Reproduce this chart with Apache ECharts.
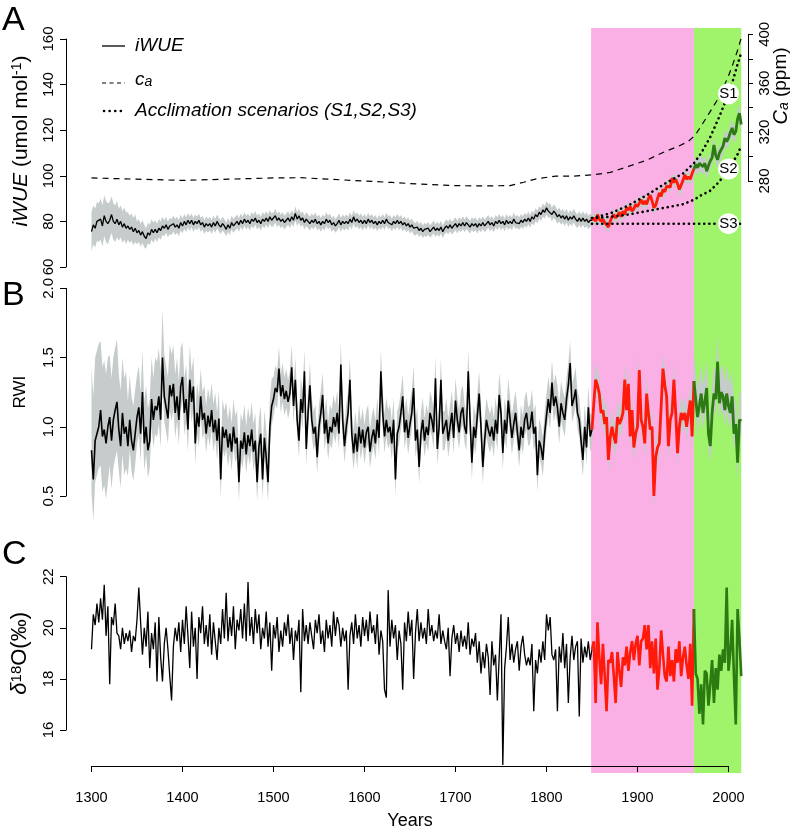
<!DOCTYPE html>
<html><head><meta charset="utf-8">
<script src="https://cdn.jsdelivr.net/npm/echarts@6/dist/echarts.min.js"></script>
<style>html,body{margin:0;padding:0;background:#fff}#c{width:796px;height:831px}</style>
</head><body><div id="c"></div><script>
// ---------- data (annual grid sampled every 2 years, 1300..2014) ----------
const yearStart = 1300, yearStep = 2;
const iwue = [
75.5,78.5,77,80,79.5, 81,78,82.5,80,79, 80.5,83,80,79,81, 78.5,80,77.5,79,77, 78,76.5,77.5,75.5,77,
75,76,74,75.5,73.5, 72.5,75,74,76.5,75, 76.5,75,77,76,78, 77,78.5,76.5,78,77.5, 79,77.5,78.5,77,79.5,
78,80,78.5,80.5,79, 80.5,78.5,80,79,80.5, 78.5,79.5,77.5,79,78, 79,77.5,79.5,78,80, 78.5,77.5,79,78,76.5,
78.5,77,79.5,78,79, 80,78.5,80.5,79,81, 79.5,80.5,79,81,80, 81.5,79.5,80.5,79,81, 80,81.5,80,82,80.5,
81,82.5,80.5,81.5,80, 81,79.5,80.5,81.5,80, 82,80.5,83.5,81,82.5, 80.5,81.5,79.5,81,80, 79,80.5,79.5,81,79,
80,78.5,80,79,81, 79.5,80.5,78.5,79.5,78, 79,80.5,78.5,80,79, 80,79,81,79.5,82, 80,81,79.5,80.5,79,
80.5,79,81,79.5,80.5, 79,80,78.5,80,79, 80.5,79,81,79.5,80, 78.5,80,79,80.5,79, 80,78.5,79.5,78,79,
77.5,78.5,77,76.5,77.5, 76,77,75.5,76.5,76, 77,75.5,76.5,77.5,76, 77,76,77.5,75.5,77, 78,77,78.5,77,78,
79,77.5,79,78,79.5, 78,79.5,78.5,77.5,79, 78,79,77.5,79,78, 79.5,78,79,80,78.5, 79.5,78,80,79,80.5,
79,80,78.5,80.5,79, 80,79,81,79.5,80, 79,80.5,79.5,81,80, 81.5,80,82,81,83, 82,84,83,85,84,
86,84.5,85,83,84.5, 83.5,82,83,81.5,82.5, 81,82.5,80.5,82,81, 82.5,81,80,81.5,80, 81.5,80,81,79.5,80.5,
80.5,81.5,80,83,81, 80,81,79.5,78.5,77.5, 80,82,83,81.5,82.5, 84,82,84.5,83,86, 85,86.5,84.5,85.5,87.5,
86.5,88,89.5,87.5,89, 87.5,90,91.5,89,86, 87,90,92.5,91,94, 93,95.5,96,95,99, 97,98.5,96.5,94,93.5,
98,100.5,98.5,99.5,98.5, 101,103,105,103.5,105.5, 105,104,105.5,102,104.5, 106.5,108,113.5,109,107,
110,110.5,113,116.5,115, 116.5,119,121,118,119.5, 125,127.5,122.5
];
// half width of the grey iWUE envelope, one value per decade (1300s .. 2010s)
const iwueSpread = [
8.5,9,8,7,6,5,4.5,4,3.5,3.5,
3.2,3,3,3,3,3,3,3,3,3,
3,3,3,3,3,3,3,3,3,3,
2.8,2.8,2.8,2.8,2.8,2.8,2.8,2.8,2.8,2.8,
2.8,2.8,2.8,2.8,2.8,2.8,2.8,2.8,2.8,2.8,
3,3,3,3,3,
2.5,2.5,2.5,2.5,2.5,2.5,2.5,2.5,2.5,2.5,2.5,
3.5,3.5,3.5,3.5,3.5,3.5
];
const rwi = [
0.83,0.62,0.90,0.95,1.00, 1.12,0.93,0.98,0.88,1.00, 1.07,0.90,1.05,1.12,1.18, 0.98,0.86,1.10,0.95,1.00, 0.86,1.05,0.90,0.83,0.95,
1.07,1.14,0.95,1.25,0.88, 1.00,0.83,0.90,1.20,1.05, 1.15,1.12,1.22,1.05,1.50, 1.22,1.14,1.06,1.30,1.22, 1.31,1.10,1.22,1.05,1.29,
1.36,1.10,1.20,0.98,1.34, 1.18,1.29,0.88,1.10,1.00, 1.22,1.05,1.10,0.95,1.08, 1.00,1.12,0.96,1.05,0.90, 1.06,0.62,1.00,0.92,0.98,
0.85,0.95,0.82,1.00,0.88, 0.92,0.60,0.90,0.84,0.96, 0.80,0.94,0.86,0.98,0.82, 0.90,0.60,0.86,0.95,0.62, 0.92,0.78,0.60,1.00,1.15,
1.20,1.28,1.25,1.42,1.22, 1.30,1.20,1.26,1.18,1.24, 1.43,1.15,1.34,1.05,0.90, 1.20,1.10,1.40,0.84,1.10, 1.30,1.05,0.95,1.00,0.78,
1.00,1.10,1.23,0.95,1.05, 0.88,1.00,0.96,1.07,1.00, 1.10,0.95,1.45,1.05,0.86, 1.00,1.10,1.34,0.95,0.81, 0.95,0.82,1.00,0.88,0.98,
0.85,0.96,1.00,0.82,0.92, 0.98,0.88,1.05,0.92,1.40, 1.10,0.93,1.05,0.96,1.00, 0.88,1.05,0.62,0.95,1.00, 1.10,1.22,0.96,1.05,0.92,
1.02,1.10,1.28,0.90,0.98, 0.71,0.95,1.05,0.90,1.00, 0.94,1.10,1.05,0.96,1.35, 0.84,1.00,1.34,0.95,0.95, 1.05,0.90,1.00,1.10,0.92,
1.19,1.05,0.96,1.10,1.14, 1.00,0.95,1.40,1.05,0.74, 1.00,0.92,1.08,1.24,1.00, 0.71,0.90,1.05,0.98,0.93, 1.00,0.90,1.05,0.95,1.23,
1.10,0.81,1.05,0.95,1.19, 1.05,0.92,1.02,1.10,0.96, 0.83,1.00,0.92,1.05,1.10, 0.98,1.00,1.11,0.95,1.00, 0.65,0.90,0.85,0.76,0.95,
1.08,1.20,1.10,1.32,1.15, 1.22,1.14,1.00,1.17,1.10, 1.05,1.20,1.30,1.46,1.15, 1.20,1.27,1.10,1.05,0.90, 0.76,1.00,0.85,1.14,0.93,
0.98,1.17,1.34,1.30,1.24, 1.10,1.12,1.02,1.07,0.76, 0.92,1.00,0.93,0.88,1.07, 1.02,1.05,1.10,1.34,1.12, 1.31,0.93,1.12,0.85,0.95,
1.00,1.41,1.05,1.00,0.88, 1.24,1.10,0.98,1.00,0.50, 0.78,0.85,0.88,1.15,1.42, 1.30,1.22,0.86,1.05,1.10, 1.34,1.10,0.81,1.00,1.10,
1.05,1.10,1.00,1.10,1.19, 0.93,1.33,1.20,1.07,1.15, 1.24,1.10,1.18,1.28,0.95, 0.86,1.10,1.24,1.20,1.47,
1.17,1.25,1.22,1.12,1.24, 1.15,1.10,1.22,0.95,1.02, 0.74,1.05,1.04
];
// grey RWI envelope above / below the mean, one value per decade
const rwiUp = [
0.6,0.5,0.45,0.4,0.32,0.3,0.3,0.35,0.3,0.28,
0.25,0.22,0.2,0.2,0.2,0.2,0.2,0.2,0.2,0.2,
0.16,0.16,0.16,0.16,0.16,0.16,0.16,0.16,0.16,0.16,
0.16,0.16,0.16,0.16,0.16,0.16,0.16,0.16,0.16,0.16,
0.16,0.16,0.16,0.16,0.16,0.16,0.16,0.16,0.16,0.16,
0.16,0.16,0.16,0.16,0.16,
0.12,0.12,0.12,0.12,0.12,0.12,0.12,0.12,0.12,0.12,0.12,
0.2,0.2,0.2,0.2,0.2,0.2
];
const rwiDown = [
0.3,0.4,0.35,0.3,0.22,0.2,0.2,0.2,0.18,0.18,
0.16,0.15,0.14,0.14,0.14,0.14,0.14,0.14,0.14,0.14,
0.12,0.12,0.12,0.12,0.12,0.12,0.12,0.12,0.12,0.12,
0.12,0.12,0.12,0.12,0.12,0.12,0.12,0.12,0.12,0.12,
0.12,0.12,0.12,0.12,0.12,0.12,0.12,0.12,0.12,0.12,
0.12,0.12,0.12,0.12,0.12,
0.1,0.1,0.1,0.1,0.1,0.1,0.1,0.1,0.1,0.1,0.1,
0.12,0.12,0.12,0.12,0.12,0.12
];
const d18o = [
19.3,20.6,20.2,21.0,20.3, 21.2,20.4,21.7,19.8,20.9, 18.0,20.5,20.2,21.0,19.9, 19.8,19.3,20.1,19.5,19.9, 19.6,20.0,19.2,19.8,19.6,
20.4,21.6,20.3,19.1,20.1, 19.4,20.7,18.6,19.9,19.3, 20.3,18.1,20.5,19.0,18.1, 19.5,20.1,19.3,18.3,17.4, 19.4,20.1,19.6,20.3,19.2,
20.4,19.5,20.9,19.8,18.6, 20.7,19.4,20.1,18.2,20.5, 19.9,20.9,19.5,20.2,19.4, 20.6,19.1,20.3,19.6,18.9, 20.1,19.5,20.8,19.7,21.4,
19.6,20.5,19.8,20.9,19.3, 20.4,20.0,20.8,19.7,21.0, 19.6,21.8,19.8,20.5,19.5, 20.8,19.9,20.6,19.3,20.1, 19.7,20.7,19.4,20.3,18.5,
20.2,19.7,20.5,19.2,20.0, 19.4,20.3,19.8,20.6,19.5, 20.1,18.9,20.0,19.6,20.4, 17.7,20.8,19.6,20.2,19.5, 20.3,19.8,19.3,20.4,19.9,
20.6,19.5,20.0,19.2,20.4, 19.7,20.2,19.4,20.7,19.8, 20.5,20.2,19.4,20.1,19.6, 20.0,17.8,19.8,20.3,19.5, 20.6,19.7,20.2,19.4,20.5,
19.8,20.4,19.6,20.7,19.9, 20.2,19.5,20.6,19.1,20.0, 19.6,17.8,17.5,21.5,19.4, 20.4,19.7,20.2,18.9,20.0, 19.5,17.8,20.3,19.6,20.7,
19.8,20.4,18.2,19.9,20.8, 19.6,20.3,19.7,20.1,19.5, 20.8,19.8,20.2,19.6,20.0, 19.7,20.6,19.5,20.0,19.6, 19.3,20.1,18.3,19.7,20.2,
19.5,19.9,19.2,20.0,19.4, 19.8,19.3,20.3,19.1,19.7, 19.4,19.9,18.8,19.6,18.4, 19.2,18.6,19.5,19.0,17.6, 19.6,18.7,19.1,17.4,19.0,
20.6,15.0,18.6,19.4,20.5, 18.9,19.5,18.8,19.3,19.6, 18.5,19.4,19.8,19.1,18.7, 19.0,18.7,19.5,17.0,18.9, 18.4,19.3,18.8,19.6,18.9,
20.6,20.0,20.5,19.1,18.9, 19.3,17.0,19.4,18.8,19.9, 18.6,19.5,17.3,19.0,19.8, 18.9,19.4,19.6,16.8,19.7, 18.8,19.4,19.0,19.6,18.9,
19.3,19.6,17.3,20.3,19.0, 18.0,19.5,18.3,17.0,18.9, 18.8,19.2,18.3,17.3,19.2, 18.5,17.9,19.0,18.7,19.4, 18.5,19.2,19.6,18.9,19.5,
19.8,18.7,19.6,19.7,20.2, 19.3,20.2,18.6,19.6,18.4, 19.7,17.8,18.6,20.0,19.1, 18.3,18.1,19.4,18.3,18.9, 18.1,19.3,18.8,19.6,18.3,
19.0,19.4,18.7,18.2,19.5, 17.2,20.8,18.4,18.2,16.9, 18.0,16.5,18.5,18.4,17.2, 18.0,18.9,17.3,18.6,17.8,
19.1,18.5,19.3,18.8,21.6, 18.5,19.2,20.4,18.3,16.5, 20.8,19.7,18.3
];
// atmospheric CO2 (ca, ppm)
const caYears  = [1300,1350,1400,1450,1500,1530,1560,1600,1630,1660,1700,1730,1760,1775,1790,1810,1830,1850,1870,1890,1910,1930,1945,1955,1963,1970,1980,1990,2000,2005,2010,2014];
const caValues = [282.5,281.5,280.5,281.5,282.5,282.7,281.5,280,278.8,277.5,276.2,276,276.2,279,282,284,284,285,287,292,297,304,308.5,312,317,325,337,349,366,376,387,397];
// acclimation scenarios (iWUE)
const scenarioYears = [1850,1870,1890,1910,1930,1950,1962,1970,1980,1990,2000,2005,2010,2014];
const s1 = [81.5,83.5,87,91.5,96.5,101,105.5,110,117,126,136,142,149,154];
const s2 = [81.5,82,83,84.5,86,87.5,89.5,91.5,93.5,97.5,103,106,109.5,113];
const s3 = [79,79,79,79,79,79,79,79,79,79,79,79,79,79];
const scenarioNames = ['S1','S2','S3'];
const scenarioLabelYear = 2000;
// periods (pink = 1850-1962, green = 1962-2014)
const periodStart = [1849, 1962];
const periodEnd   = [1962, 2014];

// ---------- layout ----------
const FONT = "'Liberation Sans', Arial, Helvetica, sans-serif";
const BLACK = '#000', RED = '#ff1a0a', GREEN = '#2b7a12', GREY = '#c6cbcb';
const PINK = '#fab0e5', LIME = '#9ff46b';
// tick-range frames (pixel boxes of the axes, R style)
const AX = { left: 91.5, right: 728.5 };
const frames = {
  A:  { top: 39,    bottom: 267, min: 60,  max: 160 },
  Ca: { top: 34.3,  bottom: 181, min: 280, max: 400 },
  B:  { top: 288.3, bottom: 496, min: 0.5, max: 2.0 },
  C:  { top: 576.7, bottom: 738, min: 16,  max: 22 }
};
// plotting regions (wider, so nothing is clipped) -- same scale as the frames
const DX = { left: 66, right: 767 };
const regions = { A: [28, 278], Ca: [28, 200], B: [278, 540], C: [556, 773] };
function extend(f, r) {
  const per = (f.max - f.min) / (f.bottom - f.top);
  return { min: f.min - (r[1] - f.bottom) * per, max: f.max + (f.top - r[0]) * per };
}
const xPer = (2000 - 1300) / (AX.right - AX.left);
const xMinD = 1300 - (AX.left - DX.left) * xPer, xMaxD = 2000 + (DX.right - AX.right) * xPer;

// ---------- build ----------
const years = iwue.map((_, i) => yearStart + i * yearStep);
const dIdx = y => Math.min(Math.floor((y - 1300) / 10), 71);
function seg(vals, from, to) {
  const out = [];
  years.forEach((y, i) => { if (y >= from && y <= to) out.push([y, vals[i]]); });
  return out;
}

const grids = [], xAxes = [], yAxes = [];
// data grids 0..3 : A, Ca, B, C ; 4 : background
['A', 'Ca', 'B', 'C'].forEach((k, i) => {
  const r = regions[k], e = extend(frames[k], r);
  grids.push({ left: DX.left, width: DX.right - DX.left, top: r[0], height: r[1] - r[0] });
  xAxes.push({ type: 'value', gridIndex: i, min: xMinD, max: xMaxD, show: false });
  yAxes.push({ type: 'value', gridIndex: i, min: e.min, max: e.max, show: false });
});
grids.push({ left: DX.left, width: DX.right - DX.left, top: 28, height: 745 });
xAxes.push({ type: 'value', gridIndex: 4, min: xMinD, max: xMaxD, show: false });
yAxes.push({ type: 'value', gridIndex: 4, min: 0, max: 1, show: false });

// axis frames 5..8
const axisLine = { show: true, lineStyle: { color: BLACK, width: 1 } };
const lab = { color: BLACK, fontSize: 15, fontFamily: FONT };
['A', 'Ca', 'B', 'C'].forEach((k, j) => {
  const f = frames[k], gi = 5 + j;
  grids.push({ left: AX.left, width: AX.right - AX.left, top: f.top, height: f.bottom - f.top });
  xAxes.push({
    type: 'value', gridIndex: gi, min: 1300, max: 2000, interval: 100, show: k === 'C', offset: 36,
    splitLine: { show: false }, axisLine, axisTick: { show: true, length: 6, lineStyle: { color: BLACK } },
    axisLabel: Object.assign({}, lab, { fontSize: 14.5, margin: 24, formatter: v => String(v) }),
    name: 'Years', nameLocation: 'middle', nameGap: 46,
    nameTextStyle: { color: BLACK, fontSize: 18, fontFamily: FONT }
  });
});
yAxes.push(
  { type: 'value', gridIndex: 5, min: 60, max: 160, interval: 20, offset: 25.5, splitLine: { show: false }, axisLine,
    axisTick: { show: true, length: 6, lineStyle: { color: BLACK } },
    axisLabel: Object.assign({}, lab, { rotate: 90, margin: 10, formatter: v => String(v) }) },
  { type: 'value', gridIndex: 6, position: 'right', min: 280, max: 400, interval: 20, offset: 19.5, splitLine: { show: false }, axisLine,
    axisTick: { show: true, length: 5, lineStyle: { color: BLACK } },
    axisLabel: Object.assign({}, lab, { rotate: 90, margin: 9, formatter: v => ((v - 280) % 40 === 0 ? String(v) : '') }) },
  { type: 'value', gridIndex: 7, min: 0.5, max: 2.0, interval: 0.5, offset: 25.5, splitLine: { show: false }, axisLine,
    axisTick: { show: true, length: 6, lineStyle: { color: BLACK } },
    axisLabel: Object.assign({}, lab, { rotate: 90, margin: 10, formatter: v => v.toFixed(1) }),
    name: 'RWI', nameLocation: 'middle', nameGap: 37, nameRotate: 90,
    nameTextStyle: { color: BLACK, fontSize: 17, fontFamily: FONT } },
  { type: 'value', gridIndex: 8, min: 16, max: 22, interval: 2, offset: 25.5, splitLine: { show: false }, axisLine,
    axisTick: { show: true, length: 6, lineStyle: { color: BLACK } },
    axisLabel: Object.assign({}, lab, { rotate: 90, margin: 10, formatter: v => String(v) }),
    name: '{i|δ}{sup|18}O(‰)', nameLocation: 'middle', nameGap: 35, nameRotate: 90,
    nameTextStyle: { color: BLACK, fontSize: 22, fontFamily: FONT,
      rich: { i: { fontStyle: 'italic', fontSize: 22, fontFamily: FONT, color: BLACK },
              sup: { fontSize: 15, verticalAlign: 'top', fontFamily: FONT, color: BLACK } } } }
);

function line(gi, data, color, width, z, extra) {
  return Object.assign({
    type: 'line', xAxisIndex: gi, yAxisIndex: gi, data, symbol: 'none', clip: false,
    lineStyle: { color, width }, itemStyle: { color }, z, silent: true, animation: false
  }, extra || {});
}
function band(gi, vals, upArr, dnArr) {
  return {
    type: 'custom', xAxisIndex: gi, yAxisIndex: gi, z: 1, silent: true, animation: false, clip: false,
    data: years.map((y, i) => [y, vals[i] - dnArr[dIdx(y)], vals[i] + upArr[dIdx(y)]]),
    encode: { x: 0, y: [1, 2] },
    renderItem: (params, api) => {
      if (params.dataIndexInside !== 0) return null;
      const n = params.dataInsideLength, up = [], dn = [];
      for (let i = 0; i < n; i++) {
        const x = api.value(0, i);
        up.push(api.coord([x, api.value(2, i)]));
        dn.push(api.coord([x, api.value(1, i)]));
      }
      return { type: 'polygon', shape: { points: up.concat(dn.reverse()) }, style: { fill: GREY } };
    }
  };
}

const scen = [s1, s2, s3].map((arr, k) => line(0, scenarioYears.map((y, i) => [y, arr[i]]), BLACK, 2.6, 4, {
  lineStyle: { color: BLACK, width: 2.6, type: [0.1, 5], cap: 'round' },
  markPoint: {
    silent: true, animation: false,
    data: [{ coord: [scenarioLabelYear, arr[scenarioYears.indexOf(scenarioLabelYear)]], symbol: 'circle', symbolSize: 21,
      itemStyle: { color: '#fff' },
      label: { show: true, position: 'inside', formatter: scenarioNames[k], color: BLACK, fontSize: 15, fontFamily: FONT } }]
  }
}));

const option = {
  animation: false,
  backgroundColor: '#fff',
  textStyle: { fontFamily: FONT },
  grid: grids, xAxis: xAxes, yAxis: yAxes,
  graphic: [
    { type: 'text', x: 2, y: 21, style: { text: 'A', font: '34px ' + FONT, fill: BLACK, verticalAlign: 'middle' } },
    { type: 'text', x: 2, y: 296, style: { text: 'B', font: '34px ' + FONT, fill: BLACK, verticalAlign: 'middle' } },
    { type: 'text', x: 2, y: 555, style: { text: 'C', font: '34px ' + FONT, fill: BLACK, verticalAlign: 'middle' } },
    { type: 'text', x: 21, y: 141, rotation: Math.PI / 2,
      style: { text: '{i|iWUE} (umol mol{sup|-1})', align: 'center', verticalAlign: 'middle', fill: BLACK,
        font: '21px ' + FONT,
        rich: { i: { fontStyle: 'italic', fontSize: 21, fontFamily: FONT, fill: BLACK },
                sup: { fontSize: 14, fontFamily: FONT, verticalAlign: 'top', fill: BLACK } } } },
    { type: 'text', x: 781, y: 86, rotation: Math.PI / 2,
      style: { text: '{i|C}{s|a} (ppm)', align: 'center', verticalAlign: 'middle', fill: BLACK,
        font: '19px ' + FONT,
        rich: { i: { fontStyle: 'italic', fontSize: 20, fontFamily: FONT, fill: BLACK },
                s: { fontStyle: 'italic', fontSize: 14, fontFamily: FONT, verticalAlign: 'bottom', fill: BLACK } } } },
    // legend
    { type: 'line', shape: { x1: 102, y1: 46, x2: 125, y2: 46 }, style: { stroke: BLACK, lineWidth: 1.3 } },
    { type: 'text', x: 135, y: 46, style: { text: 'iWUE', font: 'italic 19px ' + FONT, fill: BLACK, verticalAlign: 'middle' } },
    { type: 'line', shape: { x1: 102, y1: 83, x2: 125, y2: 83 }, style: { stroke: BLACK, lineWidth: 1.2, lineDash: [4, 3.5] } },
    { type: 'text', x: 135, y: 80, style: { text: '{c|c}{s|a}', verticalAlign: 'middle', fill: BLACK,
        rich: { c: { fontStyle: 'italic', fontSize: 19, fontFamily: FONT, fill: BLACK },
                s: { fontStyle: 'italic', fontSize: 14, fontFamily: FONT, verticalAlign: 'bottom', fill: BLACK } } } },
    { type: 'line', shape: { x1: 104, y1: 111, x2: 123, y2: 111 }, style: { stroke: BLACK, lineWidth: 2.6, lineDash: [0.1, 5.5], lineCap: 'round' } },
    { type: 'text', x: 135, y: 111, style: { text: 'Acclimation scenarios (S1,S2,S3)', font: 'italic 19px ' + FONT, fill: BLACK, verticalAlign: 'middle' } }
  ],
  series: [
    { type: 'custom', xAxisIndex: 4, yAxisIndex: 4, z: 0, silent: true, animation: false,
      data: periodStart.map((s, i) => [s, periodEnd[i]]),
      renderItem: (params, api) => {
        const a = api.coord([api.value(0), 1]);
        const b = api.coord([api.value(1), 0]);
        return { type: 'rect', shape: { x: a[0], y: a[1], width: b[0] - a[0], height: b[1] - a[1] },
                 style: { fill: params.dataIndex === 0 ? PINK : LIME } };
      } },
    band(0, iwue, iwueSpread, iwueSpread),
    line(0, seg(iwue, 1300, 1850), BLACK, 1.3, 3),
    line(0, seg(iwue, 1850, 1962), RED, 2.8, 3),
    line(0, seg(iwue, 1962, 2014), GREEN, 2.8, 3),
    line(1, caYears.map((y, i) => [y, caValues[i]]), BLACK, 1.2, 4, { lineStyle: { color: BLACK, width: 1.2, type: [6, 5] } }),
    ...scen,
    band(2, rwi, rwiUp, rwiDown),
    line(2, seg(rwi, 1300, 1850), BLACK, 1.6, 3),
    line(2, seg(rwi, 1850, 1962), RED, 2.8, 3),
    line(2, seg(rwi, 1962, 2014), GREEN, 2.8, 3),
    line(3, seg(d18o, 1300, 1850), BLACK, 1.3, 3),
    line(3, seg(d18o, 1850, 1962), RED, 2.6, 3),
    line(3, seg(d18o, 1962, 2014), GREEN, 2.6, 3)
  ]
};
const chart = echarts.init(document.getElementById('c'), null, { renderer: 'canvas' });
chart.setOption(option);
</script></body></html>
